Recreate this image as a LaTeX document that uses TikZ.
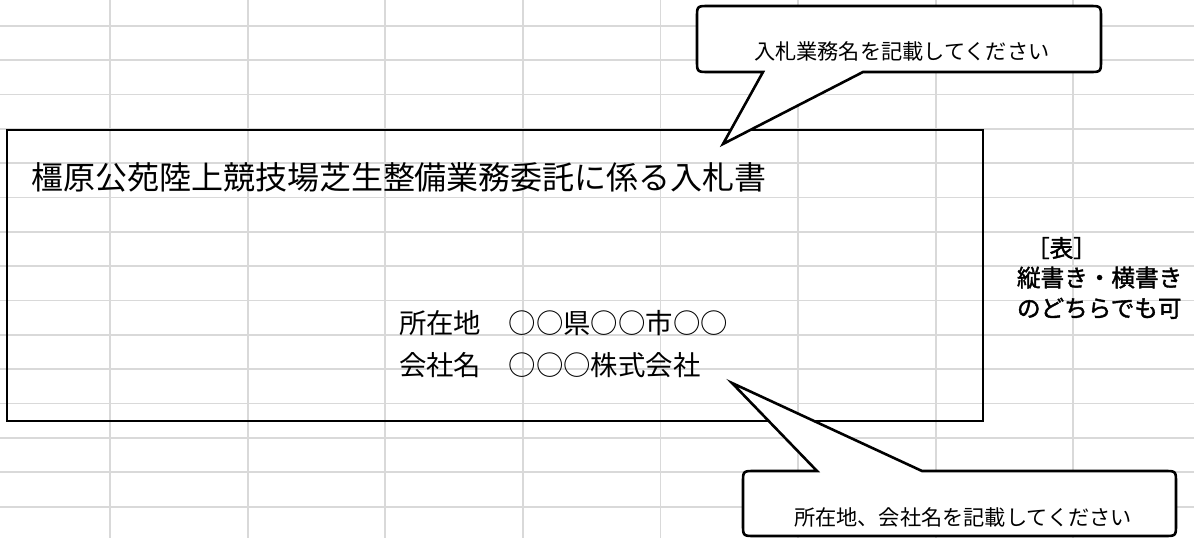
\documentclass[tikz,border=0pt]{standalone}
\usepackage{fontspec}
\newfontfamily\jp{Noto Sans CJK JP}
\newfontfamily\jpm{Noto Sans CJK JP}[FakeBold=1.6]
\tikzset{
  gridline/.style={draw=gray!30, line width=1.8pt},
  frame/.style={draw=black, line width=2.6pt},
  callout/.style={fill=white, draw=black, line width=2.6pt, line join=miter, miter limit=10},
  txt/.style={anchor=base west, inner sep=0pt, outer sep=0pt},
  titlefont/.style={font=\jp\fontsize{32}{38}\selectfont},
  addrfont/.style={font=\jp\fontsize{27.4}{32}\selectfont},
  notefont/.style={font=\jp\fontsize{21.2}{26}\selectfont},
  sidefont/.style={font=\jpm\fontsize{23.6}{28}\selectfont},
}
\begin{document}
\begin{tikzpicture}[x=1pt, y=-1pt]
  % canvas
  \fill[white] (0,0) rectangle (1194,538);
  \useasboundingbox (0,0) rectangle (1194,538);
  % spreadsheet grid
  \foreach \k in {0,...,7} {
    \draw[gridline] ({110+137.6*\k},0) -- ({110+137.6*\k},538);
  }
  \foreach \k in {0,...,14} {
    \draw[gridline] (0,{25.7+34.35*\k}) -- (1194,{25.7+34.35*\k});
  }
  % main frame
  \draw[frame] (7,130) rectangle (983,421);
  % title and address
  \node[txt, titlefont] (title) at (31,189) {橿原公苑陸上競技場芝生整備業務委託に係る入札書};
  \node[txt, addrfont] (addr1) at (399,333) {所在地　○○県○○市○○};
  \node[txt, addrfont] (addr2) at (399,375.5) {会社名　○○○株式会社};
  % side note
  \node[txt, sidefont] (side1) at (1026,257) {［表］};
  \node[txt, sidefont] (side2) at (1017,286.5) {縦書き・横書き};
  \node[txt, sidefont] (side3) at (1017,317) {のどちらでも可};
  % callout 1 (top)
  \coordinate (tipA) at (723,144);
  \draw[callout] (763,72) -- (tipA) -- (863,72) -- (1089,72)
    .. controls (1101,72) .. (1101,60) -- (1101,18)
    .. controls (1101,6) .. (1089,6) -- (709,6)
    .. controls (697,6) .. (697,18) -- (697,60)
    .. controls (697,72) .. (709,72) -- cycle;
  \node[txt, notefont] (noteA) at (754,59) {入札業務名を記載してください};
  % callout 2 (bottom)
  \coordinate (tipB) at (732,383);
  \draw[callout] (817,471) -- (tipB) -- (922,471) -- (1164,471)
    .. controls (1176,471) .. (1176,483) -- (1176,524)
    .. controls (1176,536) .. (1164,536) -- (755,536)
    .. controls (743,536) .. (743,524) -- (743,483)
    .. controls (743,471) .. (755,471) -- cycle;
  \node[txt, notefont] (noteB) at (794,525) {所在地、会社名を記載してください};
\end{tikzpicture}
\end{document}
